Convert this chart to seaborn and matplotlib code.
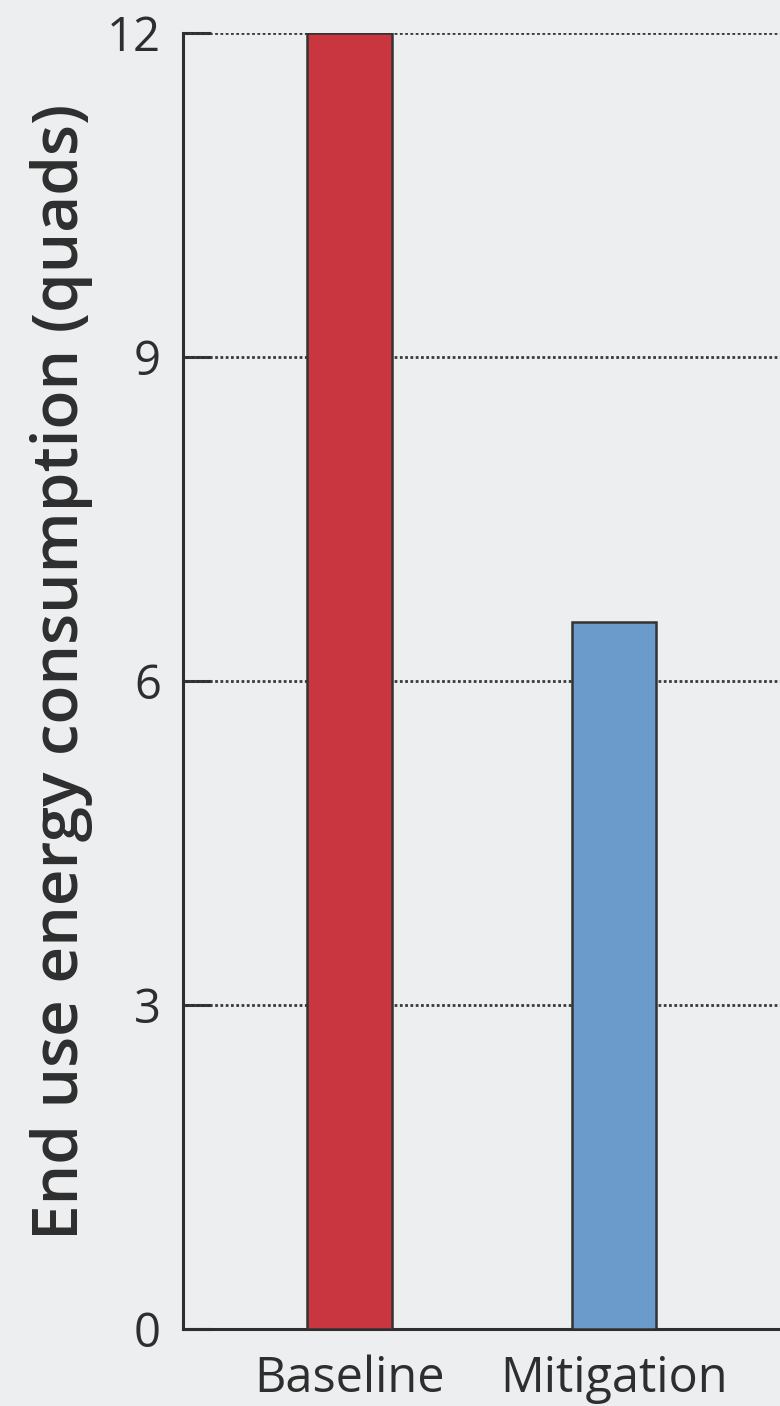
import matplotlib
matplotlib.use("Agg")
import matplotlib.pyplot as plt
import seaborn as sns
import pandas as pd

# Data
scenarios = ["Baseline", "Mitigation"]
consumption = [12.0, 6.55]
bar_colors = ["#c9363f", "#6a9bca"]
y_ticks = [0, 3, 6, 9, 12]

df = pd.DataFrame({"scenario": scenarios, "quads": consumption})

sns.set_theme(style="white")
plt.rcParams["font.family"] = ["Open Sans", "DejaVu Sans"]

paper = "#eceef0"
ink = "#2e2e2e"

fig = plt.figure(figsize=(7.8, 14.06), dpi=100, facecolor=paper)
ax = fig.add_axes([183 / 780, 77 / 1406, (780 - 183) / 780, 1296 / 1406])
ax.set_facecolor(paper)

sns.barplot(data=df, x="scenario", y="quads", hue="scenario",
            palette=bar_colors, width=0.32, ax=ax, legend=False,
            edgecolor="#333333", linewidth=1.8, saturation=1, zorder=3)

ax.set_xlim(-0.63, 1.628)
ax.set_ylim(0, 12)
ax.set_yticks(y_ticks)
ax.set_yticklabels([str(t) for t in y_ticks])

# dotted reference lines at each tick above zero
for t in y_ticks[1:]:
    ax.axhline(t, color="#3a3a3a", lw=2.0, ls=(0, (1.0, 0.9)), zorder=1)

for side in ["top", "right"]:
    ax.spines[side].set_visible(False)
for side in ["left", "bottom"]:
    ax.spines[side].set_color(ink)
    ax.spines[side].set_linewidth(2.2)

ax.tick_params(axis="y", left=True, direction="in", length=20, width=2.2,
               color=ink, labelsize=34, labelcolor=ink, pad=16)
ax.tick_params(axis="x", bottom=False, length=0, labelsize=35,
               labelcolor=ink, pad=18)

ax.set_xlabel("")
ax.set_ylabel("End use energy consumption (quads)", fontsize=46,
              fontweight="semibold", color=ink)
ax.yaxis.set_label_coords(-0.15, 0.507)

fig.savefig("out.png", dpi=100, facecolor=paper)
